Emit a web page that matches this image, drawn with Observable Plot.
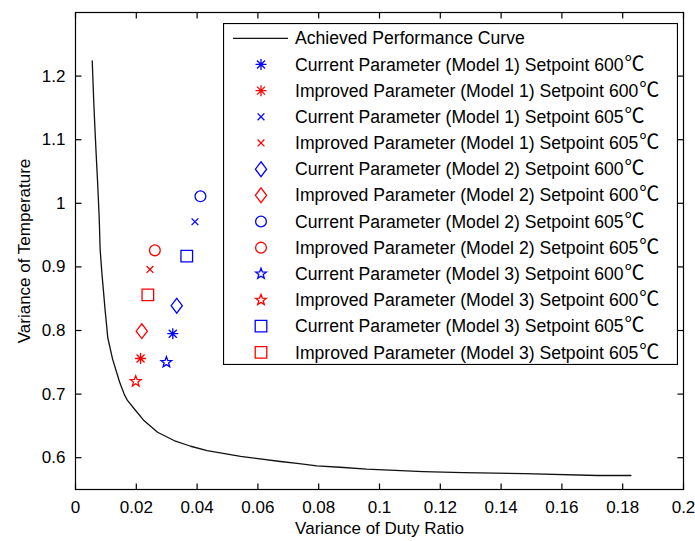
<!DOCTYPE html>
<html><head><meta charset="utf-8">
<script src="https://cdn.jsdelivr.net/npm/d3@7"></script>
<script src="https://cdn.jsdelivr.net/npm/@observablehq/plot@0.6"></script>
<style>
html,body{margin:0;padding:0;background:#fff;}
#wrap{position:relative;width:695px;height:541px;}
#wrap svg{font-family:"Liberation Sans",Arial,sans-serif;}
#legend{position:absolute;left:223px;top:23px;}
</style></head><body><div id="wrap"></div>
<script>
// ---- data ----
const curveX = [0.0055,0.0060,0.0064,0.0068,0.0073,0.0078,0.0081,0.0087,0.0092,0.0097,0.0103,0.0106,0.0122,0.0145,0.0160,0.0171,0.0193,0.0226,0.0270,0.0324,0.0379,0.0433,0.0543,0.0674,0.0729,0.0794,0.0870,0.0958,0.1051,0.1144,0.1275,0.1477,0.1717,0.1827];
const curveY = [1.224,1.160,1.117,1.077,1.030,0.977,0.928,0.889,0.862,0.834,0.805,0.789,0.755,0.719,0.700,0.690,0.677,0.658,0.640,0.627,0.618,0.611,0.602,0.594,0.591,0.587,0.585,0.582,0.580,0.578,0.5765,0.575,0.572,0.572];
const curveLabel = "Achieved Performance Curve";
const seriesNames = [
  "Current Parameter (Model 1) Setpoint 600\u2103",
  "Improved Parameter (Model 1) Setpoint 600\u2103",
  "Current Parameter (Model 1) Setpoint 605\u2103",
  "Improved Parameter (Model 1) Setpoint 605\u2103",
  "Current Parameter (Model 2) Setpoint 600\u2103",
  "Improved Parameter (Model 2) Setpoint 600\u2103",
  "Current Parameter (Model 2) Setpoint 605\u2103",
  "Improved Parameter (Model 2) Setpoint 605\u2103",
  "Current Parameter (Model 3) Setpoint 600\u2103",
  "Improved Parameter (Model 3) Setpoint 600\u2103",
  "Current Parameter (Model 3) Setpoint 605\u2103",
  "Improved Parameter (Model 3) Setpoint 605\u2103"
];
const seriesX = [0.0320,0.0214,0.0393,0.0245,0.0333,0.0218,0.0411,0.0261,0.0299,0.0198,0.0366,0.0238];
const seriesY = [0.795,0.756,0.971,0.896,0.839,0.799,1.011,0.926,0.750,0.720,0.917,0.856];
const xTicks = [0,0.02,0.04,0.06,0.08,0.1,0.12,0.14,0.16,0.18,0.2];
const yTicks = [0.6,0.7,0.8,0.9,1,1.1,1.2];
const xLabel = "Variance of Duty Ratio";
const yLabel = "Variance of Temperature";

// ---- styles ----
const seriesColor = ["#0000ff","#ff0000","#0000ff","#ff0000","#0000ff","#ff0000","#0000ff","#ff0000","#0000ff","#ff0000","#0000ff","#ff0000"];
const seriesSymbol = ["asterisk","asterisk","times","times","diamond","diamond","circle","circle","star","star","square","square"];
const R = 5.5;
const kOf = size => Math.sqrt(size / Math.PI) / R;
const symbols = {
  asterisk: {draw(c, size){ const k = kOf(size), a = 5.5*k, d = 4*k;
    c.moveTo(-a,0); c.lineTo(a,0); c.moveTo(0,-a); c.lineTo(0,a);
    c.moveTo(-d,-d); c.lineTo(d,d); c.moveTo(-d,d); c.lineTo(d,-d); }},
  times: {draw(c, size){ const k = kOf(size), d = 3.4*k;
    c.moveTo(-d,-d); c.lineTo(d,d); c.moveTo(-d,d); c.lineTo(d,-d); }},
  diamond: {draw(c, size){ const k = kOf(size), w = 5.6*k, h = 7.4*k;
    c.moveTo(0,-h); c.lineTo(w,0); c.lineTo(0,h); c.lineTo(-w,0); c.closePath(); }},
  circle: {draw(c, size){ const r = 5.4*kOf(size);
    c.moveTo(r,0); c.arc(0,0,r,0,2*Math.PI); }},
  star: {draw(c, size){ const k = kOf(size), ro = 5.6*k, ri = ro*0.42;
    for (let i = 0; i < 10; i++) { const a = -Math.PI/2 + i*Math.PI/5, r = i%2 ? ri : ro;
      const x = r*Math.cos(a), y = r*Math.sin(a); i ? c.lineTo(x,y) : c.moveTo(x,y); }
    c.closePath(); }},
  square: {draw(c, size){ const k = kOf(size), h = 5.8*k; c.rect(-h,-h,2*h,2*h); }}
};
// inward tick shapes (drawn as dot symbols anchored on the frame edges)
const TL = 6;
const tickUp = {draw(c){ c.moveTo(0,0); c.lineTo(0,-TL); }};
const tickDown = {draw(c){ c.moveTo(0,0); c.lineTo(0,TL); }};
const tickRight = {draw(c){ c.moveTo(0,0); c.lineTo(TL,0); }};
const tickLeft = {draw(c){ c.moveTo(0,0); c.lineTo(-TL,0); }};
const fmt = d => String(Math.round(d*100)/100);
const FS = 17, LFS = 17.6;
const W = 695, H = 541, mL = 75, mR = 12, mT = 12, mB = 52;

const curve = curveX.map((x,i) => ({x, y: curveY[i]}));
const dotMarks = seriesNames.map((name, i) =>
  Plot.dot([i], {x: j => seriesX[j], y: j => seriesY[j], symbol: symbols[seriesSymbol[i]],
    r: R, stroke: seriesColor[i], fill: "none", strokeWidth: 1.3}));
const tickOpts = {r: R, stroke: "#000", fill: "none", strokeWidth: 1.2};

const chart = Plot.plot({
  width: W, height: H,
  marginLeft: mL, marginRight: mR, marginTop: mT, marginBottom: mB,
  style: {fontFamily: '"Liberation Sans", Arial, sans-serif', fontSize: FS + "px"},
  x: {domain: [0, 0.2]},
  y: {domain: [0.55, 1.3]},
  marks: [
    Plot.line(curve, {x: "x", y: "y", stroke: "#111", strokeWidth: 1.3}),
    ...dotMarks,
    Plot.frame({stroke: "black", strokeWidth: 1.2}),
    Plot.dot(xTicks, {x: d => d, frameAnchor: "bottom", symbol: tickUp, ...tickOpts}),
    Plot.dot(xTicks, {x: d => d, frameAnchor: "top", symbol: tickDown, ...tickOpts}),
    Plot.dot(yTicks, {y: d => d, frameAnchor: "left", symbol: tickRight, ...tickOpts}),
    Plot.dot(yTicks, {y: d => d, frameAnchor: "right", symbol: tickLeft, ...tickOpts}),
    Plot.axisX(xTicks, {anchor: "bottom", tickSize: 0, tickPadding: 11, tickFormat: fmt, fontSize: FS,
      label: xLabel, labelAnchor: "center", labelArrow: false, labelOffset: 44}),
    Plot.axisY(yTicks, {anchor: "left", tickSize: 0, tickPadding: 10, tickFormat: fmt, fontSize: FS,
      label: yLabel, labelAnchor: "center", labelArrow: false, labelOffset: 58})
  ]
});
const wrap = document.getElementById("wrap");
wrap.appendChild(chart);

// ---- legend (overlay inside the axes) ----
const LW = 454, LH = 341, rowH = 26.17, row0 = 15.3;
const leg = d3.create("svg").attr("id","legend").attr("width", LW + 1).attr("height", LH + 1)
  .style("font-family", '"Liberation Sans", Arial, sans-serif').style("font-size", LFS + "px");
leg.append("rect").attr("x",0.5).attr("y",0.5).attr("width",LW).attr("height",LH)
  .attr("fill","#fff").attr("stroke","#000").attr("stroke-width",1.2);
leg.append("line").attr("x1",10).attr("x2",65).attr("y1",row0).attr("y2",row0)
  .attr("stroke","#111").attr("stroke-width",1.3);
leg.append("text").attr("x",72).attr("y",row0).attr("dy","0.35em").attr("fill","#000").text(curveLabel);
seriesNames.forEach((name, i) => {
  const y = row0 + rowH*(i+1);
  leg.append("path").attr("transform", `translate(38,${y})`)
    .attr("d", d3.symbol(symbols[seriesSymbol[i]], Math.PI*R*R)())
    .attr("fill","none").attr("stroke", seriesColor[i]).attr("stroke-width",1.3);
  const t = leg.append("text").attr("x",72).attr("y",y).attr("dy","0.35em").attr("fill","#000");
  const parts = name.split("\u2103");
  t.append("tspan").text(parts[0]);
  if (parts.length > 1) t.append("tspan").attr("dx", 1)
    .attr("font-family", '"Noto Sans CJK SC", "DejaVu Sans", sans-serif').attr("font-size", "20px").text("\u2103");
});
wrap.appendChild(leg.node());
</script>
</body></html>
